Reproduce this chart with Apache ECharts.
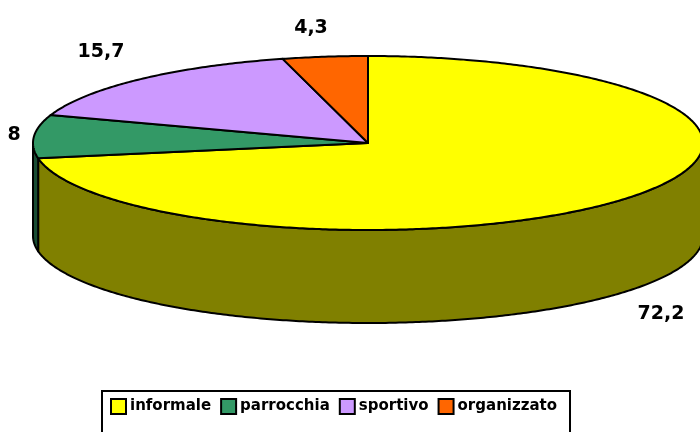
<!DOCTYPE html>
<html><head><meta charset="utf-8">
<style>html,body{margin:0;padding:0;background:#fff;overflow:hidden}#c{width:700px;height:432px}</style>
<script src="https://cdn.jsdelivr.net/npm/echarts@6/dist/echarts.min.js"></script>
</head><body><div id="c"></div>
<script>
const categories = ['informale', 'parrocchia', 'sportivo', 'organizzato'];
const values = [72.2, 8, 15.7, 4.3];
const topColors = ['#ffff00', '#339966', '#cc99ff', '#ff6600'];
const sideColors = ['#808000', '#194c33', '#664c80', '#803300'];
const labelSpots = [[661, 314], [14, 135], [101, 52], [311, 28]];

const CX = 368, CY = 143, RX = 335, RY = 87, DEPTH = 93;
const total = 100;
const FONT = '"DejaVu Sans", sans-serif';

function pt(t, dy) { return [CX + RX * Math.sin(t), CY - RY * Math.cos(t) + (dy || 0)]; }
function arc(a, b, dy) {
  const pts = [], n = Math.max(2, Math.ceil(Math.abs(b - a) / 0.01));
  for (let i = 0; i <= n; i++) pts.push(pt(a + (b - a) * i / n, dy));
  return pts;
}
const chart = echarts.init(document.getElementById('c'), null, {renderer: 'canvas'});
let acc = 0;
const series = categories.map((name, i) => {
  const start = acc / total * Math.PI * 2;
  acc += values[i];
  const end = i === categories.length - 1 ? Math.PI * 2 : acc / total * Math.PI * 2;
  return {
    type: 'custom', name, coordinateSystem: 'none', silent: true,
    itemStyle: {color: topColors[i]},
    data: [values[i]],
    renderItem() {
      const line = {stroke: '#000', lineWidth: 2, lineJoin: 'round'};
      const children = [];
      // visible front wall: the arc part lying between 90 and 270 degrees
      const a = Math.max(start, Math.PI / 2), b = Math.min(end, Math.PI * 1.5);
      if (b > a) {
        const front = arc(a, b, 0);
        const back = arc(b, a, DEPTH);
        children.push({type: 'polygon', z2: 1, shape: {points: front.concat(back)},
          style: Object.assign({fill: sideColors[i]}, line)});
      }
      children.push({type: 'polygon', z2: 2, shape: {points: [[CX, CY]].concat(arc(start, end, 0))},
        style: Object.assign({fill: topColors[i]}, line)});
      children.push({type: 'text', z2: 3, style: {
        text: String(values[i]).replace('.', ','), x: labelSpots[i][0], y: labelSpots[i][1],
        align: 'center', verticalAlign: 'middle', fill: '#000',
        font: 'bold 19px ' + FONT}});
      return {type: 'group', children};
    }
  };
});
chart.setOption({
  animation: false,
  backgroundColor: '#fff',
  legend: {
    left: 102, top: 391, orient: 'horizontal',
    data: categories, icon: 'rect', itemWidth: 15, itemHeight: 15, itemGap: 9,
    padding: [7, 13, 30, 8],
    backgroundColor: '#fff', borderColor: '#000', borderWidth: 2,
    selectedMode: false,
    itemStyle: {borderColor: '#000', borderWidth: 2},
    textStyle: {fontFamily: FONT, fontWeight: 'bold', fontSize: 15, color: '#000', padding: [0, 0, 0, -1]}
  },
  series
});
</script></body></html>
